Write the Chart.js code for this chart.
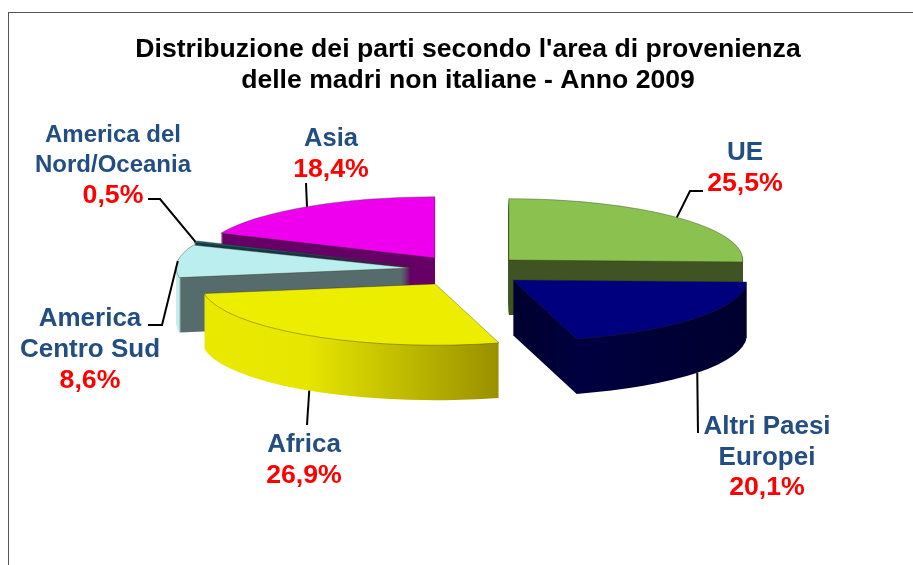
<!DOCTYPE html>
<html><head><meta charset="utf-8">
<style>html,body{margin:0;padding:0;background:#fff;overflow:hidden}canvas{display:block}</style>
<script src="https://cdn.jsdelivr.net/npm/chart.js@4"></script>
</head><body><canvas id="c" width="913" height="565"></canvas>
<script>
const titleLines = ["Distribuzione dei parti secondo l'area di provenienza", "delle madri non italiane - Anno 2009"];
const categories = ["UE", "Altri Paesi Europei", "Africa", "America Centro Sud", "America del Nord/Oceania", "Asia"];
const values = [25.5, 20.1, 26.9, 8.6, 0.5, 18.4];

const labelLines = [["UE"], ["Altri Paesi", "Europei"], ["Africa"], ["America", "Centro Sud"], ["America del", "Nord/Oceania"], ["Asia"]];
const topColors = ["#8bc14f", "#00007f", "#eded00", "#bbeeee", "#1f5a68", "#ee00ee"];
const sideStops = [
  [[0, "#3f5323"], [1, "#3f5323"]],
  [[0, "#00002e"], [0.3, "#000040"], [1, "#00002e"]],
  [[0, "#e9e900"], [0.35, "#e6e600"], [1, "#999000"]],
  [[0, "#c4ecec"], [0.012, "#c4ecec"], [0.02, "#566b6b"], [1, "#566b6b"]],
  [[0, "#0f3a46"], [1, "#0f3a46"]],
  [[0, "#660066"], [1, "#660066"]]
];
const explode = [68, 67, 46, 50, 53, 46];
const tiltNudge = [1.4, -1.8, 2.8, -1.5, 0, -2.9];
const drawOrder = [0, 5, 4, 3, 2, 1];
const frontAnchor = [false, true, true, false, false, false];
const leaderElbows = [
  [[690, 191], [703, 191]],
  [[698, 433]],
  [[307, 425]],
  [[162, 325], [148, 325]],
  [[160, 199], [148, 199]],
  [[306, 183]]
];
const labelBoxes = [
  {x: 745, y: 153, pct: 184}, {x: 767, y: 427, pct: 488}, {x: 304, y: 445, pct: 476},
  {x: 90, y: 319, pct: 381}, {x: 113, y: 135, pct: 196}, {x: 331, y: 139, pct: 170}
];
const labelSizes = [26, 26, 26, 26, 24, 25.5];
const SQUASH = 0.262, DEPTH = 55, SHIFT_X = -8, LINE = 30.5;

function geom(el, i) {
  const p = el.getProps(["x", "y", "startAngle", "endAngle", "outerRadius"], true);
  const mid = (p.startAngle + p.endAngle) / 2;
  const off = explode[i];
  return {
    ax: p.x + SHIFT_X + Math.cos(mid) * off,
    ay: p.y + Math.sin(mid) * off * SQUASH + tiltNudge[i],
    r: p.outerRadius, s: p.startAngle, e: p.endAngle, mid
  };
}
function wedge(ctx, g, d) {
  ctx.beginPath();
  ctx.moveTo(g.ax, g.ay + d);
  ctx.ellipse(g.ax, g.ay + d, g.r, g.r * SQUASH, 0, g.s, g.e);
  ctx.closePath();
}
const pie3d = {
  id: "pie3d",
  beforeDraw(chart) {
    const ctx = chart.ctx;
    ctx.save();
    ctx.fillStyle = "#fff";
    ctx.fillRect(0, 0, chart.width, chart.height);
    ctx.strokeStyle = "#555";
    ctx.lineWidth = 1;
    ctx.strokeRect(8.5, 12.5, 920, 570);
    ctx.restore();
  },
  beforeDatasetDraw(chart) {
    const ctx = chart.ctx, arcs = chart.getDatasetMeta(0).data;
    ctx.save();
    drawOrder.forEach(i => {
      const g = geom(arcs[i], i);
      const xs = [g.ax, g.ax + g.r * Math.cos(g.s), g.ax + g.r * Math.cos(g.e)];
      if (g.s <= Math.PI && g.e >= Math.PI) xs.push(g.ax - g.r);
      if (g.s <= 0 && g.e >= 0) xs.push(g.ax + g.r);
      const grad = ctx.createLinearGradient(Math.min(...xs), 0, Math.max(...xs), 0);
      sideStops[i].forEach(st => grad.addColorStop(st[0], st[1]));
      ctx.fillStyle = grad;
      for (let d = DEPTH; d >= 1; d--) { wedge(ctx, g, d); ctx.fill(); }
      wedge(ctx, g, 0);
      ctx.fillStyle = topColors[i];
      ctx.fill();
      ctx.strokeStyle = "rgba(40,40,20,0.35)";
      ctx.lineWidth = 1;
      ctx.stroke();
    });
    ctx.restore();
    return false;
  },
  afterDatasetsDraw(chart) {
    const ctx = chart.ctx, arcs = chart.getDatasetMeta(0).data;
    ctx.save();
    ctx.strokeStyle = "#000";
    ctx.lineWidth = 2;
    arcs.forEach((el, i) => {
      const g = geom(el, i);
      ctx.beginPath();
      ctx.moveTo(g.ax + g.r * Math.cos(g.mid), g.ay + g.r * SQUASH * Math.sin(g.mid) + (frontAnchor[i] ? DEPTH : 0));
      leaderElbows[i].forEach(p => ctx.lineTo(p[0], p[1]));
      ctx.stroke();
    });
    ctx.textAlign = "center";
    ctx.textBaseline = "middle";
    categories.forEach((c, i) => {
      const b = labelBoxes[i];
      ctx.font = "bold " + labelSizes[i] + "px 'Liberation Sans', Arial, sans-serif";
      ctx.fillStyle = "#234e82";
      labelLines[i].forEach((t, j) => ctx.fillText(t, b.x, b.y + j * LINE));
      ctx.font = "bold 26.7px 'Liberation Sans', Arial, sans-serif";
      ctx.fillStyle = "#ff0000";
      ctx.fillText(values[i].toFixed(1).replace(".", ",") + "%", b.x, b.pct);
    });
    ctx.restore();
  }
};
new Chart(document.getElementById("c"), {
  type: "pie",
  data: {
    labels: categories,
    datasets: [{ data: values, backgroundColor: topColors, borderWidth: 0, offset: explode, radius: 234 }]
  },
  options: {
    responsive: false,
    animation: false,
    layout: { padding: { left: 23, bottom: 119.5 } },
    plugins: {
      legend: { display: false },
      tooltip: { enabled: false },
      title: {
        display: true,
        text: titleLines,
        color: "#000",
        font: { family: "'Liberation Sans', Arial, sans-serif", size: 26.6, weight: "bold", lineHeight: 1.165 },
        padding: { top: 34.5, bottom: 0 }
      }
    }
  },
  plugins: [pie3d]
});
</script></body></html>
